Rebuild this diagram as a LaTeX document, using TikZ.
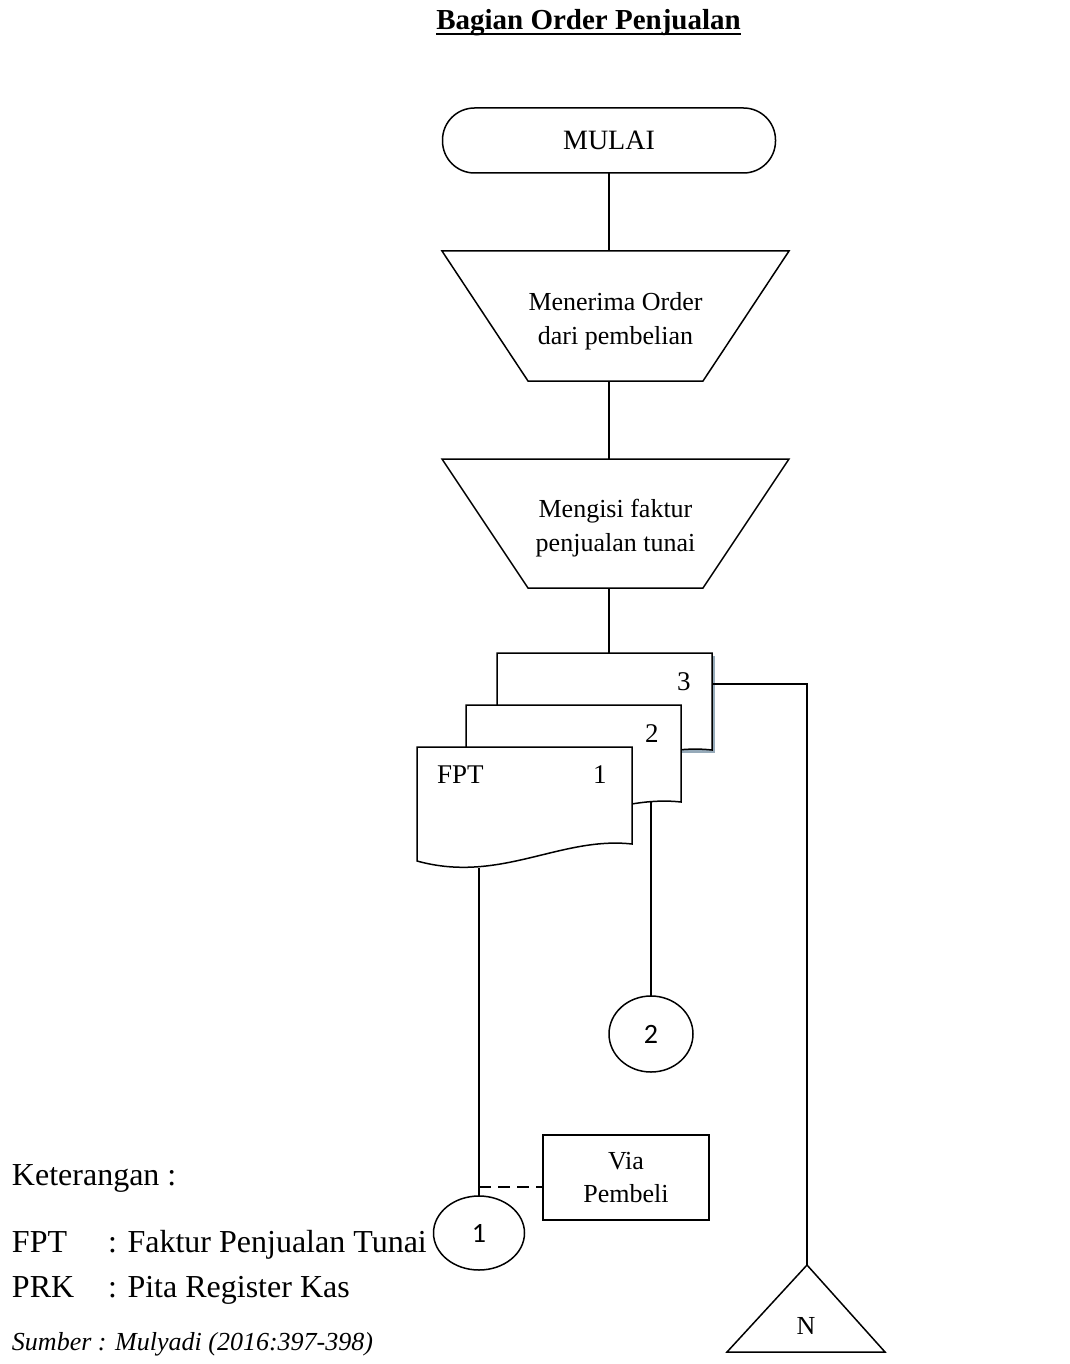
\documentclass[tikz,border=0pt]{standalone}
\usepackage{fontspec}
\setmainfont{Liberation Serif}
\newfontfamily\numfont{Carlito}
\usetikzlibrary{shapes.geometric}
\definecolor{docshadow}{RGB}{150,170,185}
\begin{document}
\begin{tikzpicture}[x=1pt,y=-1pt,line width=1.5pt,
  every node/.style={inner sep=0pt,outer sep=0pt},
  stadium/.style={draw,rectangle,rounded corners=32pt,minimum width=333pt,minimum height=65pt,font=\fontsize{28}{32}\selectfont},
  proctext/.style={align=center,font=\fontsize{26}{34}\selectfont},
  doctext/.style={anchor=base west,font=\fontsize{27}{32}\selectfont},
  connector/.style={draw,ellipse,font=\numfont\fontsize{28}{32}\selectfont},
  notebox/.style={draw,rectangle,minimum width=166pt,minimum height=85pt,align=center,font=\fontsize{26}{33}\selectfont},
  legend/.style={anchor=base west,font=\fontsize{32}{38}\selectfont},
  docbody/.style={draw,fill=white},
  flow/.style={draw,line width=1.5pt},
]
\useasboundingbox (0,0) rectangle (1069,1364);
\fill[white] (0,0) rectangle (1069,1364);

% heading
\node[anchor=base,font=\bfseries\fontsize{29}{33}\selectfont] (title) at (588.5,30) {Bagian Order Penjualan};
\draw[line width=1.6pt] ([yshift=-4pt]title.base west) -- ([yshift=-4pt]title.base east);

% start terminal
\node[stadium] (mulai) at (609,140.5) {MULAI};

% manual operation 1
\draw (442,251) -- (789,251) -- (703,381) -- (528,381) -- cycle;
\node[proctext] (op1) at (615.5,321) {Menerima Order\\dari pembelian};
\coordinate (op1in) at (609,251);
\coordinate (op1out) at (609,381);

% manual operation 2
\draw (442,459) -- (789,459) -- (703,588) -- (528,588) -- cycle;
\node[proctext] (op2) at (615.5,528) {Mengisi faktur\\penjualan tunai};
\coordinate (op2in) at (609,459);
\coordinate (op2out) at (609,588);

\draw[flow] (mulai.south) -- (op1in);
\draw[flow] (op1out) -- (op2in);

% document set: copy 3, copy 2, copy 1 (FPT)
\begin{scope}[shift={(497,653)}]
  \fill[docshadow] (3,3) rectangle (218,100);
  \draw[docbody] (0,0) -- (215,0) -- (215,97) .. controls (143,89) and (83,137) .. (0,114) -- cycle;
  \coordinate (d3top) at (112,0);
  \coordinate (d3right) at (215,31);
\end{scope}
\node[doctext] (n3) at (677,690) {3};

\begin{scope}[shift={(466,705)}]
  \draw[docbody] (0,0) -- (215,0) -- (215,97) .. controls (143,89) and (83,137) .. (0,114) -- cycle;
  \coordinate (d2bot) at (185,97);
\end{scope}
\node[doctext] (n2) at (645,742) {2};

\begin{scope}[shift={(417,747)}]
  \draw[docbody] (0,0) -- (215,0) -- (215,97) .. controls (143,89) and (83,137) .. (0,114) -- cycle;
  \coordinate (d1bot) at (62,121);
\end{scope}
\node[doctext] (fpt) at (437,783) {FPT};
\node[doctext] (n1) at (593,783) {1};

\draw[flow] (op2out) -- (op2out |- d3top);

% off-page connectors and file
\node[connector,minimum width=84pt,minimum height=76pt] (c2) at (651,1034) {2};
\node[connector,minimum width=91pt,minimum height=74pt] (c1) at (479,1233) {1};
\node[notebox] (via) at (626,1177.5) {Via\\Pembeli};

\coordinate (napex) at (807,1265);
\draw (napex) -- (885,1352) -- (727,1352) -- cycle;
\node[font=\fontsize{26}{30}\selectfont] (nfile) at (806,1326) {N};

\draw[flow] (d2bot) -- (c2.north);
\draw[flow] (d1bot) -- (c1.north);
\coordinate (tap) at (479,1187);
\draw[flow,dash pattern=on 12pt off 7pt] (tap) -- (via.west |- tap);
\draw[flow] (d3right) -| (napex);

% legend
\node[legend] (ket) at (12,1185) {Keterangan :};
\node[legend] (k1) at (12,1252) {FPT};
\node[legend] (v1) at (108,1252) {: Faktur Penjualan Tunai};
\node[legend] (k2) at (12,1297) {PRK};
\node[legend] (v2) at (108,1297) {: Pita Register Kas};
\node[anchor=base west,font=\itshape\fontsize{26}{30}\selectfont] (src) at (12,1350) {Sumber : Mulyadi (2016:397-398)};
\end{tikzpicture}
\end{document}
